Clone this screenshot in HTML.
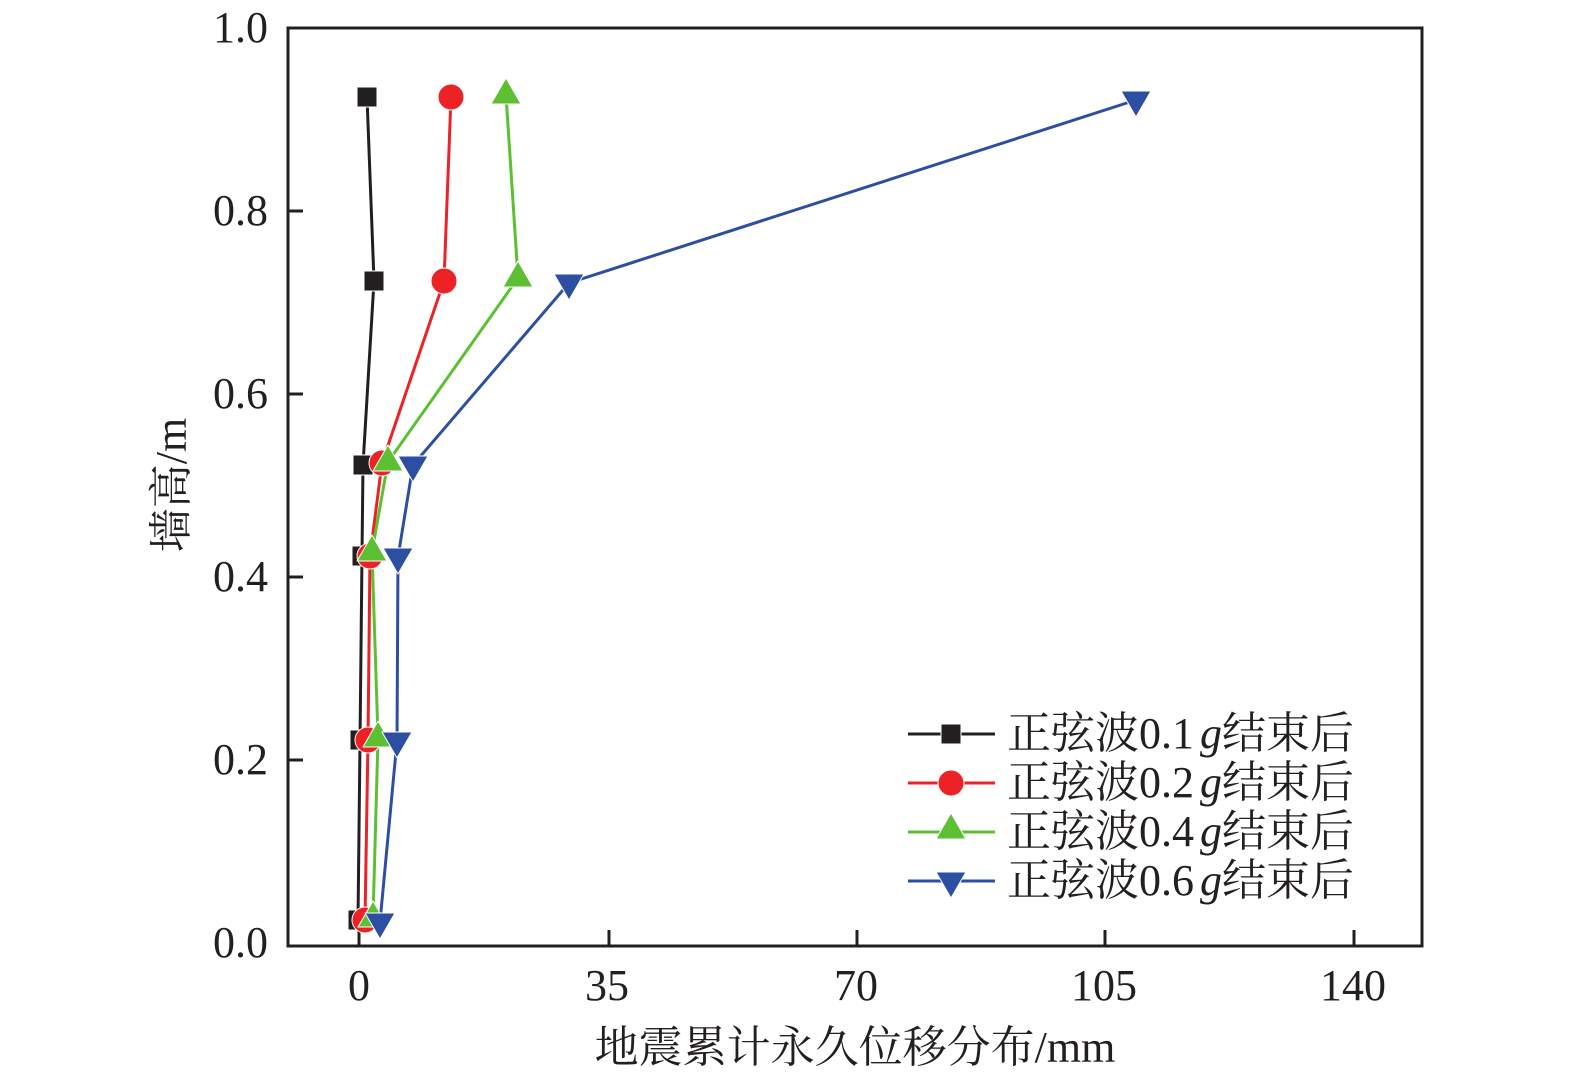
<!DOCTYPE html>
<html><head><meta charset="utf-8"><style>body{margin:0;background:#fff}svg{display:block}
text{font-family:"Liberation Serif","Times New Roman",Tinos,"Nimbus Roman","Noto Serif CJK SC",serif}
.l{font-family:"Liberation Serif","Times New Roman",Tinos,"Nimbus Roman",serif}
</style></head><body>
<svg width="1575" height="1084" viewBox="0 0 1575 1084" xmlns="http://www.w3.org/2000/svg">
<defs>
<g id="sq"><rect x="-10" y="-10" width="20" height="20" fill="#231f20" stroke="#fff" stroke-width="1"/></g>
<g id="ci"><circle r="13" fill="#ec2227" stroke="#fff" stroke-width="1"/></g>
<g id="tu"><polygon points="0,-17 15,9 -15,9" fill="#5dbf32" stroke="#fff" stroke-width="1" stroke-linejoin="round"/></g>
<g id="td"><polygon points="0,17 15,-9 -15,-9" fill="#2d4fa3" stroke="#fff" stroke-width="1" stroke-linejoin="round"/></g>
</defs>
<rect x="288" y="28" width="1134" height="918" fill="none" stroke="#231f20" stroke-width="3"/>
<g stroke="#231f20" stroke-width="3">
<line x1="359" y1="946" x2="359" y2="930"/><line x1="609" y1="946" x2="609" y2="930"/><line x1="857" y1="946" x2="857" y2="930"/><line x1="1105" y1="946" x2="1105" y2="930"/><line x1="1354" y1="946" x2="1354" y2="930"/>
<line x1="288" y1="211" x2="303" y2="211"/><line x1="288" y1="394" x2="303" y2="394"/><line x1="288" y1="577" x2="303" y2="577"/><line x1="288" y1="760" x2="303" y2="760"/>
</g>
<g font-size="44" fill="#231f20" text-anchor="middle">
<text class="l" x="359" y="1000">0</text><text class="l" x="607" y="1000">35</text><text class="l" x="856" y="1000">70</text><text class="l" x="1104" y="1000">105</text><text class="l" x="1353" y="1000">140</text>
</g>
<g font-size="44" fill="#231f20" text-anchor="end">
<text class="l" x="268" y="42">1.0</text><text class="l" x="268" y="225">0.8</text><text class="l" x="268" y="408">0.6</text><text class="l" x="268" y="591">0.4</text><text class="l" x="268" y="774">0.2</text><text class="l" x="268" y="957">0.0</text>
</g>
<text x="855" y="1062" font-size="44" text-anchor="middle" fill="#231f20">地震累计永久位移分布<tspan class="l">/mm</tspan></text>
<text transform="translate(186,485) rotate(-90)" font-size="44" text-anchor="middle" fill="#231f20">墙高<tspan class="l">/m</tspan></text>
<g fill="none" stroke-width="3">
<polyline stroke="#231f20" points="367,97 374,281 363,465 362,556 360,742 358,920"/>
<polyline stroke="#ec2227" points="451,97 444,281 382,463 370,556 368,740 365,920"/>
<polyline stroke="#5dbf32" points="506,95 518,278 388,462 372,552 378,738 373,918"/>
<polyline stroke="#2d4fa3" points="1136,100 569,283 413,465 398,557 397,741 380,922"/>
</g>
<use href="#sq" x="367" y="97"/><use href="#sq" x="374" y="281"/><use href="#sq" x="363" y="465"/><use href="#sq" x="362" y="556"/><use href="#sq" x="360" y="740"/><use href="#sq" x="358" y="920"/>
<use href="#ci" x="451" y="97"/><use href="#ci" x="444" y="281"/><use href="#ci" x="382" y="463"/><use href="#ci" x="370" y="556"/><use href="#ci" x="368" y="740"/><use href="#ci" x="365" y="920"/>
<use href="#tu" x="506" y="95"/><use href="#tu" x="518" y="278"/><use href="#tu" x="388" y="462"/><use href="#tu" x="372" y="552"/><use href="#tu" x="378" y="738"/><use href="#tu" x="373" y="918"/>
<use href="#td" x="1136" y="100"/><use href="#td" x="569" y="283"/><use href="#td" x="413" y="465"/><use href="#td" x="398" y="557"/><use href="#td" x="397" y="741"/><use href="#td" x="380" y="922"/>
<g stroke-width="3">
<line x1="908" y1="734" x2="995" y2="734" stroke="#231f20"/><use href="#sq" x="951" y="734"/>
<line x1="908" y1="783" x2="995" y2="783" stroke="#ec2227"/><use href="#ci" x="951" y="783"/>
<line x1="908" y1="832" x2="995" y2="832" stroke="#5dbf32"/><use href="#tu" x="951" y="830"/>
<line x1="908" y1="881" x2="995" y2="881" stroke="#2d4fa3"/><use href="#td" x="951" y="881"/>
</g>
<g font-size="44" fill="#231f20">
<text x="1007" y="748">正弦波<tspan class="l">0.1</tspan><tspan class="l" font-style="italic" dx="6">g</tspan>结束后</text>
<text x="1007" y="797">正弦波<tspan class="l">0.2</tspan><tspan class="l" font-style="italic" dx="6">g</tspan>结束后</text>
<text x="1007" y="846">正弦波<tspan class="l">0.4</tspan><tspan class="l" font-style="italic" dx="6">g</tspan>结束后</text>
<text x="1007" y="895">正弦波<tspan class="l">0.6</tspan><tspan class="l" font-style="italic" dx="6">g</tspan>结束后</text>
</g>
</svg>
</body></html>
